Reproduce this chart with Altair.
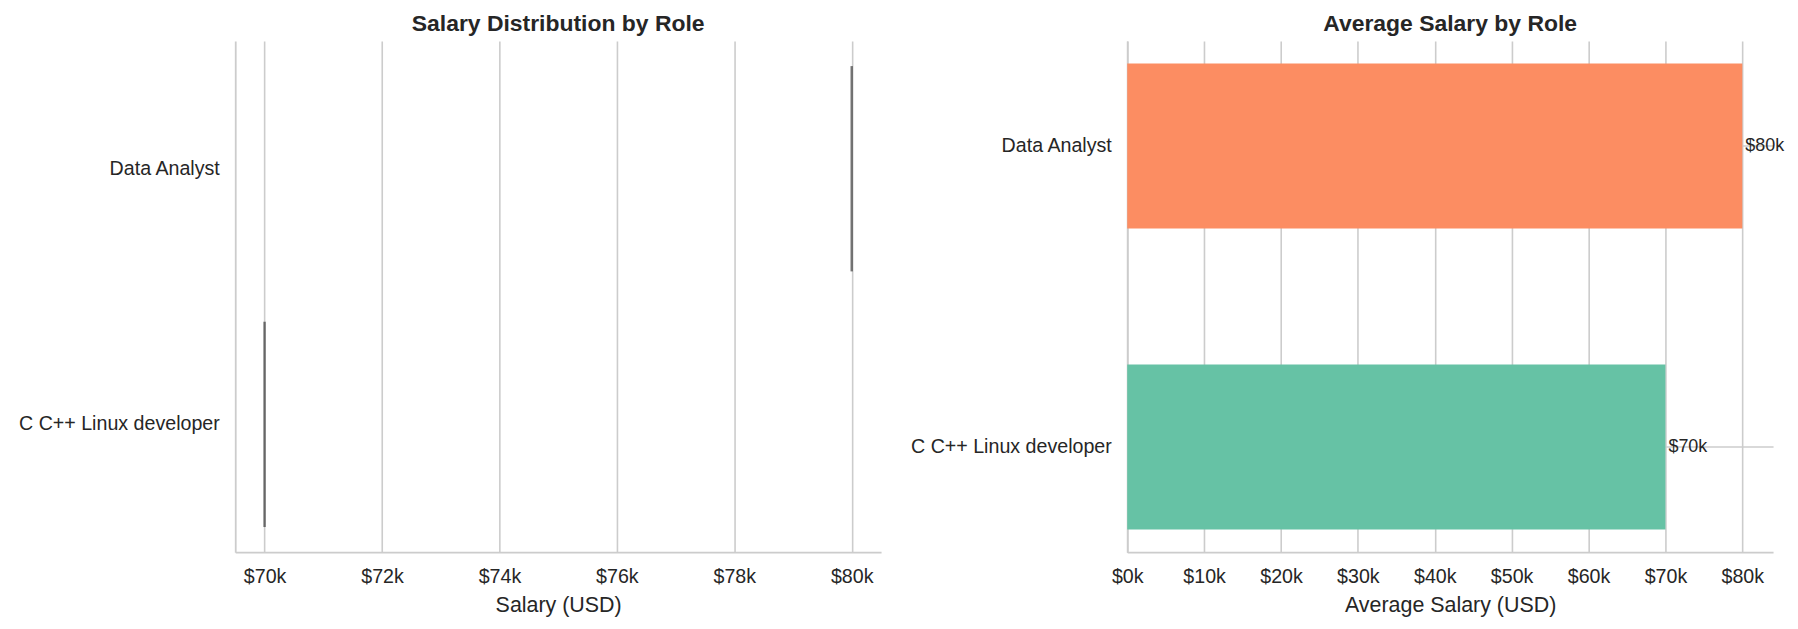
import altair as alt
import pandas as pd

roles = ["Data Analyst", "C C++ Linux developer"]
salaries = [80000, 70000]
bar_colors = ["#fc8d62", "#66c2a5"]
left_ticks = [70000, 72000, 74000, 76000, 78000, 80000]
right_ticks = [0, 10000, 20000, 30000, 40000, 50000, 60000, 70000, 80000]

df = pd.DataFrame({"role": roles, "salary": salaries})

FONT = "Liberation Sans"
TXT = "#262626"
GRID = "#cccccc"
W, H = 648, 513

fmt_k = "'$' + format(datum.value / 1000, '.0f') + 'k'"

# Left panel: distribution (single observation per role -> zero-width box)
left = alt.Chart(df).mark_tick(color="#3a3a3a", thickness=2.4, size=206).encode(
    x=alt.X("salary:Q", title="Salary (USD)",
            scale=alt.Scale(domain=[69500, 80500], nice=False, zero=False),
            axis=alt.Axis(values=left_ticks, labelExpr=fmt_k, grid=True)),
    y=alt.Y("role:N", sort=roles, title=None,
            scale=alt.Scale(paddingInner=0, paddingOuter=0),
            axis=alt.Axis(grid=False)),
).properties(width=W, height=H,
             title=alt.TitleParams("Salary Distribution by Role"))

# Right panel: average salary bars
base = alt.Chart(df).encode(
    y=alt.Y("role:N", sort=roles, title=None,
            scale=alt.Scale(paddingInner=0.452, paddingOuter=0.075),
            axis=alt.Axis(grid=True)),
)
bars = base.mark_bar().encode(
    x=alt.X("salary:Q", title="Average Salary (USD)",
            scale=alt.Scale(domain=[0, 84000], nice=False),
            axis=alt.Axis(values=right_ticks, labelExpr=fmt_k, grid=True)),
    color=alt.Color("role:N", sort=roles,
                    scale=alt.Scale(domain=roles, range=bar_colors), legend=None),
)
labels = base.mark_text(align="left", baseline="middle", dx=3, fontSize=18,
                        font=FONT, color=TXT).transform_calculate(
    lab="'$' + format(datum.salary / 1000, '.0f') + 'k'"
).encode(x="salary:Q", text="lab:N")

right = alt.layer(bars, labels).properties(
    width=W, height=H, title=alt.TitleParams("Average Salary by Role"))

chart = alt.hconcat(left, right, spacing=29).properties(
    padding={"left": 10, "top": 4, "right": 5, "bottom": 5}
).configure_view(stroke=None).configure_axis(
    labelFont=FONT, titleFont=FONT, labelFontSize=19.7, titleFontSize=21.5,
    labelColor=TXT, titleColor=TXT, titleFontWeight="normal", labelLimit=500,
    ticks=False, labelPadding=14, titlePadding=9, labelFlush=False,
    domainColor=GRID, domainWidth=1.8, gridColor=GRID, gridWidth=1.6,
).configure_axisY(labelPadding=16).configure_title(
    font=FONT, fontSize=23, fontWeight="bold", color=TXT, offset=5, anchor="middle"
)

chart.save("out.html", embed_options={"renderer": "svg", "actions": False})
